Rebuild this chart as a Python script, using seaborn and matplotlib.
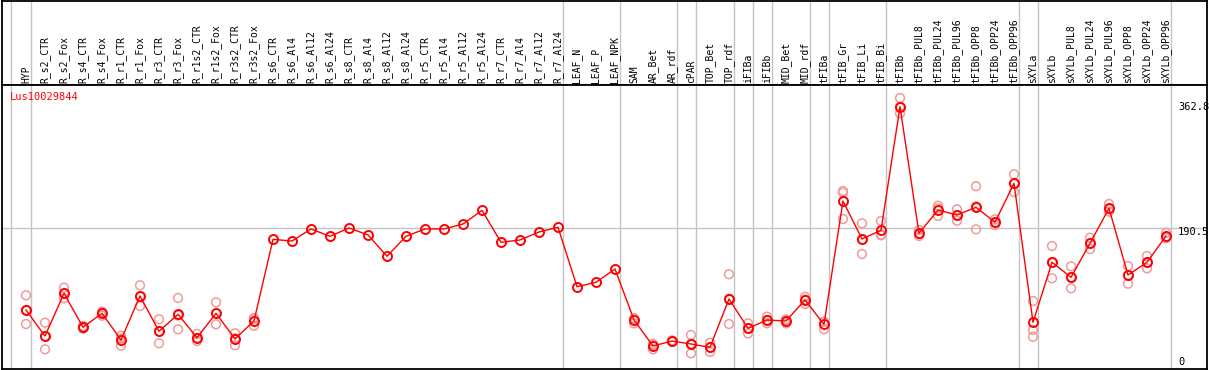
import numpy as np
import pandas as pd
import matplotlib
matplotlib.use("Agg")
import matplotlib.pyplot as plt
import seaborn as sns

title = "Lus10029844"
categories = ["HYP", "R_s2_CTR", "R_s2_Fox", "R_s4_CTR", "R_s4_Fox", "R_r1_CTR", "R_r1_Fox",
              "R_r3_CTR", "R_r3_Fox", "R_r1s2_CTR", "R_r1s2_Fox", "R_r3s2_CTR", "R_r3s2_Fox",
              "R_s6_CTR", "R_s6_Al4", "R_s6_Al12", "R_s6_Al24", "R_s8_CTR", "R_s8_Al4", "R_s8_Al12",
              "R_s8_Al24", "R_r5_CTR", "R_r5_Al4", "R_r5_Al12", "R_r5_Al24", "R_r7_CTR", "R_r7_Al4",
              "R_r7_Al12", "R_r7_Al24", "LEAF_N", "LEAF_P", "LEAF_NPK", "SAM", "AR_Bet", "AR_rdf",
              "cPAR", "TOP_Bet", "TOP_rdf", "iFIBa", "iFIBb", "MID_Bet", "MID_rdf", "tFIBa",
              "tFIB_Gr", "tFIB_Li", "tFIB_Bi", "tFIBb", "tFIBb_PUL8", "tFIBb_PUL24", "tFIBb_PUL96",
              "tFIBb_OPP8", "tFIBb_OPP24", "tFIBb_OPP96", "sXYLa", "sXYLb", "sXYLb_PUL8",
              "sXYLb_PUL24", "sXYLb_PUL96", "sXYLb_OPP8", "sXYLb_OPP24", "sXYLb_OPP96"]

means = [74.7, 37.8, 98.3, 50.2, 70.0, 32.2, 94.5, 44.5, 68.6, 35.4, 70.0, 33.6, 59.1,
         174.8, 172.4, 189.5, 179.1, 190.9, 181.0, 150.8, 179.1, 189.5, 189.5, 196.5, 215.9,
         170.6, 173.9, 185.2, 191.9, 107.7, 113.9, 132.8,
         60.5, 23.7, 30.7, 26.5, 21.8, 90.3, 48.7, 60.5, 59.1, 88.8, 54.4, 229.1, 175.3, 187.6,
         362.8, 183.3, 216.4, 209.3, 220.2, 199.0, 254.2,
         57.2, 142.3, 121.0, 169.2, 218.8, 124.3, 142.3, 179.5]

N = None
rep_a = [95.5, 56.7, 106.3, 52.0, 72.3, 38.3, 109.7, 61.5, 91.7, 40.7, 85.6, 41.6, 63.3,
         N, N, N, N, N, N, N, N, N, N, N, N, N, N, N, N, N, N, N,
         62.9, 25.5, 31.5, 39.3, 28.3, 125.3, 55.8, 65.2, 61.5, 93.5, 58.1, 243.3, 197.5, 200.8,
         375.1, 188.0, 222.5, 217.4, 250.0, 203.2, 267.0,
         87.4, 165.4, 136.6, 177.1, 224.9, 137.0, 151.2, 184.2]
rep_b = [54.8, 19.0, 91.2, 48.2, 66.6, 24.1, 80.3, 27.5, 47.3, 30.7, 54.4, 24.6, 52.4,
         N, N, N, N, N, N, N, N, N, N, N, N, N, N, N, N, N, N, N,
         55.8, 19.0, 29.5, 13.3, 15.2, 54.8, 41.6, 55.8, 55.8, 83.2, 47.3, 240.9, 154.0, 180.5,
         353.4, 179.5, 207.9, 201.2, 189.0, 195.1, 241.9,
         46.3, 119.6, 105.4, 161.1, 214.0, 111.9, 133.8, 176.3]
rep_c = [74.7, 37.8, 98.3, 50.4, 71.0, 34.2, 93.5, 44.5, 66.8, 35.0, 70.0, 34.6, 61.6,
         N, N, N, N, N, N, N, N, N, N, N, N, N, N, N, N, N, N, N,
         62.8, 26.6, 31.0, 26.9, 21.9, 90.8, 48.7, 60.5, 60.0, 89.7, 57.8, 203.6, 174.4, 181.5,
         362.8, 182.4, 218.8, 209.3, 221.6, 198.7, 253.7,
         36.8, 141.9, 121.0, 169.4, 217.5, 124.0, 142.0, 178.0]

group_ends = [-0.8, 0, 28, 31, 34, 35, 37, 38, 39, 41, 42, 45, 52, 53, 60]
ref_value = 190.5
ymax_label = 362.8

W, H, DPI = 1209, 370, 100
fig = plt.figure(figsize=(W / DPI, H / DPI), dpi=DPI)

# pixel layout
left_px, right_px = 1.5, 1207.0
header_bot = 85.0
plot_bot = 369.0
x0_px, dx_px = 26.0, 19.0
y0_px, ky = 362.7, 0.7057

def fx(px):
    return px / W

def fy(py):
    return 1 - py / H

xlim = ((left_px - x0_px) / dx_px, (right_px - x0_px) / dx_px)
ylim = ((y0_px - plot_bot) / ky, (y0_px - header_bot) / ky)

ax_h = fig.add_axes([fx(left_px), fy(header_bot), fx(right_px - left_px), (header_bot - 0.5) / H])
ax = fig.add_axes([fx(left_px), fy(plot_bot), fx(right_px - left_px), (plot_bot - header_bot) / H])

grey = "#c4c4c4"
for a in (ax_h, ax):
    a.set_xlim(*xlim)
    a.set_xticks([])
    a.set_yticks([])
    for s in a.spines.values():
        s.set_color("black")
        s.set_linewidth(1.3)
    for g in group_ends:
        xv = g + 0.24 if g >= 0 else g
        a.axvline(xv, color=grey, lw=1.0, zorder=0)
ax_h.set_ylim(0, 1)
ax.set_ylim(*ylim)
ax.axhline(ref_value, color=grey, lw=1.0, zorder=0)

mono = "DejaVu Sans Mono"
for i, c in enumerate(categories):
    ax_h.text(i, 0.025, c, rotation=90, ha="center", va="bottom",
              fontsize=7, family=mono, color="black")

idx = np.arange(len(categories))
rows = []
for reps in (rep_a, rep_b, rep_c):
    for i, v in enumerate(reps):
        if v is not None:
            rows.append({"x": i, "v": v})
df_rep = pd.DataFrame(rows)
df_mean = pd.DataFrame({"x": idx, "v": means})

sns.scatterplot(data=df_rep, x="x", y="v", ax=ax, marker="o", s=40,
                facecolors="none", edgecolor="#f19a9a", linewidth=1.1, zorder=2, legend=False)
sns.lineplot(data=df_mean, x="x", y="v", ax=ax, color="red", linewidth=1.0,
             marker="o", markersize=6.5, markerfacecolor="none", markeredgecolor="red",
             markeredgewidth=1.4, zorder=3, legend=False)
ax.set_xlabel("")
ax.set_ylabel("")
ax.set_xlim(*xlim)
ax.set_ylim(*ylim)

fig.text(fx(10), fy(97.5), title, color="red", fontsize=7.5, family=mono,
         ha="left", va="center")
for val, py in ((ymax_label, 107.5), (ref_value, 232), (0, 362)):
    txt = "0" if val == 0 else f"{val:.1f}"
    fig.text(fx(1178), fy(py), txt, color="black", fontsize=7.5, family=mono,
             ha="left", va="center")

fig.savefig("out.png", dpi=DPI)
